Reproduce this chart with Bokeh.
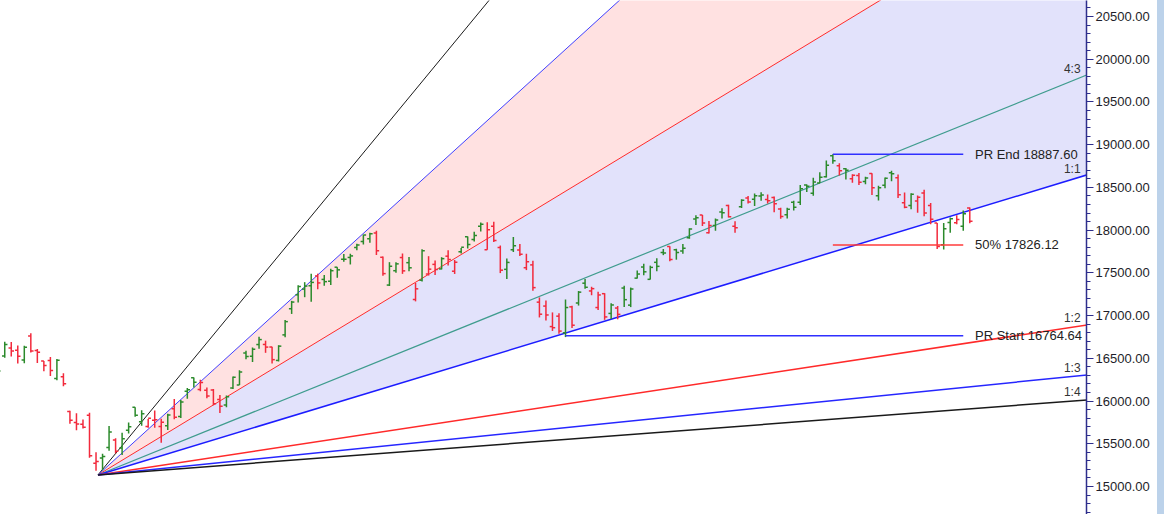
from bokeh.plotting import figure
from bokeh.models import FixedTicker, PrintfTickFormatter, Range1d
from bokeh.embed import file_html
from bokeh.resources import INLINE
from bokeh.core.properties import value

# ---------------- data (daily OHLC, bar index 0 = fan anchor day) ----------------
first_index = -15
opens = [16296, 16527, 16620, 16594, 16481, 16761, 16590, 16469, 16474, 16263, 16283, 15877, 15750, 15729, 15832,
         15272, 15334, 15455, 15545, 15451, 15657, 15926, 15757, 15701, 15775, 15703, 15710, 15909, 15818, 16114,
         16273, 16136, 16126, 16130, 16019, 15954, 16151, 16187, 16562, 16523, 16661, 16662, 16632, 16475, 16774,
         17080, 17243, 17310, 17349, 17463, 17423, 17402, 17566, 17659, 17680, 17797, 17868, 17900, 17967, 17682,
         17357, 17525, 17679, 17619, 17188, 17414, 17486, 17599, 17546, 17695, 17519, 17748, 17923, 17890, 18045,
         17771, 18046, 17797, 17541, 17770, 17766, 17560, 17593, 17157, 17111, 16871, 16993, 16798, 17102, 17147,
         17379, 17288, 17094, 17256, 17025, 17088, 17322, 17122, 17438, 17568, 17424, 17623, 17737, 17808, 17771,
         17756, 17910, 18130, 18177, 17968, 18053, 18211, 18289, 18044, 18272, 18376, 18362, 18398, 18358, 18382,
         18246, 18179, 18326, 18326, 18528, 18430, 18552, 18625, 18871, 18752, 18719, 18600, 18638, 18570, 18662,
         18402, 18524, 18672, 18614, 18320, 18288, 18341, 18435, 18289, 18083, 17830, 18089, 18085, 18045, 18259]
highs = [16415, 16695, 16690, 16649, 16646, 16793, 16610, 16469, 16514, 16492, 16324, 15887, 15858, 15783, 15863,
         15400, 15382, 15707, 15565, 15628, 15749, 15927, 15893, 15790, 15890, 15793, 15852, 16025, 16012, 16151,
         16275, 16248, 16158, 16140, 16070, 16066, 16287, 16360, 16588, 16627, 16753, 16706, 16636, 16653, 16947,
         17172, 17356, 17391, 17490, 17490, 17474, 17548, 17566, 17719, 17724, 17839, 17945, 17968, 17993, 17691,
         17625, 17623, 17727, 17685, 17381, 17777, 17695, 17644, 17683, 17764, 17650, 17792, 17925, 17980, 18089,
         18092, 18097, 17820, 17667, 17919, 17838, 17723, 17642, 17212, 17176, 17037, 17027, 17188, 17114, 17287,
         17428, 17337, 17280, 17262, 17143, 17112, 17348, 17328, 17527, 17607, 17584, 17670, 17778, 17811, 17783,
         17838, 18023, 18175, 18178, 18106, 18136, 18255, 18296, 18103, 18362, 18399, 18427, 18442, 18417, 18394,
         18262, 18261, 18345, 18529, 18534, 18614, 18678, 18816, 18888, 18782, 18728, 18654, 18668, 18625, 18664,
         18519, 18617, 18696, 18652, 18440, 18431, 18404, 18473, 18318, 18084, 18084, 18149, 18174, 18230, 18265]
lows = [16185, 16506, 16521, 16438, 16443, 16567, 16444, 16347, 16293, 16243, 16172, 15735, 15659, 15678, 15335,
        15183, 15191, 15419, 15385, 15367, 15619, 15815, 15710, 15688, 15687, 15511, 15662, 15786, 15800, 16026,
        16157, 16115, 16031, 15950, 15859, 15927, 16142, 16187, 16490, 16458, 16611, 16564, 16438, 16463, 16747,
        17019, 17154, 17215, 17161, 17308, 17348, 17359, 17442, 17631, 17598, 17764, 17833, 17852, 17710, 17467,
        17346, 17500, 17488, 17519, 17166, 17400, 17468, 17476, 17540, 17587, 17487, 17726, 17786, 17866, 17985,
        17771, 17861, 17497, 17429, 17745, 17696, 17532, 17291, 16978, 16942, 16820, 16788, 16748, 16855, 17117,
        17315, 17238, 17064, 16950, 16960, 16956, 17099, 17099, 17434, 17472, 17422, 17520, 17707, 17637, 17654,
        17723, 17899, 18060, 18048, 17959, 17992, 18136, 18147, 17969, 18259, 18311, 18282, 18344, 18312, 18209,
        18133, 18137, 18229, 18294, 18445, 18402, 18552, 18616, 18778, 18639, 18591, 18555, 18528, 18536, 18410,
        18346, 18490, 18571, 18375, 18255, 18244, 18202, 18162, 18068, 17779, 17774, 17968, 18068, 17993, 18081]
closes = [16352, 16662, 16585, 16523, 16628, 16584, 16570, 16416, 16356, 16478, 16201, 15774, 15732, 15692, 15360,
          15293, 15350, 15638, 15413, 15557, 15699, 15832, 15850, 15799, 15780, 15752, 15835, 15810, 15989, 16133,
          16220, 16216, 16058, 15967, 15938, 16049, 16278, 16340, 16521, 16605, 16719, 16631, 16484, 16642, 16929,
          17158, 17340, 17345, 17388, 17382, 17397, 17525, 17535, 17659, 17698, 17825, 17944, 17956, 17758, 17491,
          17577, 17605, 17523, 17559, 17313, 17759, 17543, 17539, 17666, 17656, 17624, 17798, 17833, 17936, 18070,
          18004, 17877, 17531, 17622, 17816, 17718, 17630, 17327, 17016, 17007, 16858, 16818, 17094, 16887, 17274,
          17331, 17315, 17241, 16984, 17124, 17014, 17186, 17311, 17486, 17512, 17564, 17576, 17731, 17656, 17737,
          17787, 18012, 18145, 18083, 18053, 18117, 18203, 18157, 18028, 18350, 18329, 18403, 18410, 18344, 18308,
          18160, 18244, 18267, 18484, 18513, 18563, 18618, 18758, 18812, 18696, 18701, 18642, 18561, 18609, 18497,
          18497, 18608, 18660, 18414, 18269, 18420, 18385, 18199, 18127, 17807, 18015, 18132, 18123, 18191, 18105]

# Gann fan
fan_origin_index = 0.3
fan_origin_price = 15135.0
fan_unit = 23.15           # price per bar for the 1x1 line
fan_names = ["4:1", "3:1", "2:1", "4:3", "1:1", "1:2", "1:3", "1:4"]
fan_slopes = [4, 3, 2, 4 / 3, 1, 1 / 2, 1 / 3, 1 / 4]

# price-range levels
pr_start = 16764.64
pr_end = 18887.60
pr_mid = (pr_start + pr_end) / 2
pr_start_index = 72
pr_end_index = 113
level_stop_index = 133
level_names = ["PR End", "50%", "PR Start"]

y_ticks = [15000, 15500, 16000, 16500, 17000, 17500, 18000, 18500, 19000, 19500, 20000, 20500]

# ---------------- figure ----------------
x_lo, x_hi = -14.65, 151.9
y_lo, y_hi = 14672, 20687

p = figure(width=1164, height=514, output_backend="svg", toolbar_location=None,
           x_range=Range1d(x_lo, x_hi), y_range=Range1d(y_lo, y_hi),
           x_axis_location=None, y_axis_location="right",
           min_border_left=0, min_border_top=0, min_border_bottom=0, min_border_right=78)
p.grid.visible = False
p.outline_line_color = None
p.background_fill_color = "white"
p.border_fill_color = None
p.styles = {"background": "linear-gradient(to right, #ffffff 0px, #ffffff 1157px, #bcd2ea 1157px, #bcd2ea 1164px)"}

def fan_at(slope, x):
    return fan_origin_price + slope * fan_unit * (x - fan_origin_index)

x_far = 170
# fills
s3, s2, s1 = fan_slopes[1], fan_slopes[2], fan_slopes[4]
p.patch([fan_origin_index, x_far, x_far], [fan_origin_price, fan_at(s3, x_far), fan_at(s2, x_far)],
        fill_color="#ffe1e1", line_color=None)
p.patch([fan_origin_index, x_far, x_far], [fan_origin_price, fan_at(s2, x_far), fan_at(s1, x_far)],
        fill_color="#e2e2fb", line_color=None)

fan_colors = ["#1a1a1a", "#4040ff", "#ff2a2a", "#3f9c8e", "#1c1cff", "#ff2a2a", "#2626ff", "#1a1a1a"]
fan_widths = [1, 1, 1, 1.2, 1.5, 1.5, 1.5, 1.5]
for name, sl, c, w in zip(fan_names, fan_slopes, fan_colors, fan_widths):
    p.line([fan_origin_index, x_far], [fan_origin_price, fan_at(sl, x_far)], line_color=c, line_width=w)

# fan labels at right edge
lab_x = 151.0
lab_x_list, lab_y_list, lab_t = [], [], []
for name, sl in zip(fan_names, fan_slopes):
    yv = fan_at(sl, lab_x)
    if yv < y_hi - 150:
        lab_x_list.append(lab_x)
        lab_y_list.append(yv)
        lab_t.append(name)
p.text(lab_x_list, lab_y_list, text=lab_t, text_align="right", text_baseline="bottom", y_offset=-1,
       text_font=value("Liberation Sans"), text_font_size="12px", text_color="#333333")

# OHLC bars
n = len(closes)
xs = [first_index + i for i in range(n)]
cols = []
for i in range(n):
    prev = closes[i - 1] if i > 0 else opens[i]
    cols.append("#2b8a2b" if closes[i] >= prev else "#f22a3c")
tw = 0.42
p.segment(xs, lows, xs, highs, line_color=cols, line_width=1.5)
p.segment([x - tw for x in xs], opens, xs, opens, line_color=cols, line_width=1.5)
p.segment(xs, closes, [x + tw for x in xs], closes, line_color=cols, line_width=1.5)

# price-range levels
p.segment([pr_end_index, pr_end_index, pr_start_index], [pr_end, pr_mid, pr_start],
          [level_stop_index] * 3, [pr_end, pr_mid, pr_start],
          line_color=["#3030ff", "#ff3b3b", "#3030ff"], line_width=1.5)
p.text([level_stop_index + 1.8] * 3, [pr_end, pr_mid, pr_start],
       text=[f"{nm} {v:.2f}" for nm, v in zip(level_names, [pr_end, pr_mid, pr_start])],
       text_align="left", text_baseline="middle",
       text_font=value("Liberation Sans"), text_font_size="13px", text_color="#222222")

# right axis
ax = p.yaxis[0]
ax.ticker = FixedTicker(ticks=y_ticks, minor_ticks=list(range(14700, 20700, 100)))
ax.formatter = PrintfTickFormatter(format="%.2f")
ax.axis_line_color = "#2e2e8c"
ax.axis_line_width = 1.5
ax.major_tick_line_color = "#2e2e8c"
ax.minor_tick_line_color = "#2e2e8c"
ax.major_tick_out = 7
ax.major_tick_in = 0
ax.minor_tick_out = 4
ax.minor_tick_in = 0
ax.major_label_standoff = 2
ax.major_label_text_font = "Liberation Sans"
ax.major_label_text_font_size = "13px"
ax.major_label_text_color = "#1e1e2a"

open("out.html", "w").write(file_html(p, INLINE))
